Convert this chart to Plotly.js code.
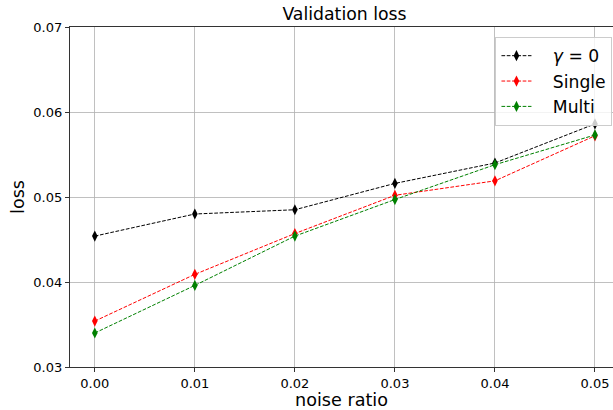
<!DOCTYPE html>
<html>
<head>
<meta charset="utf-8">
<script src="https://cdn.plot.ly/plotly-3.0.1.min.js"></script>
<style>html,body{margin:0;padding:0;background:#fff;}#chart{width:613px;height:410px;}</style>
</head>
<body>
<div id="chart"></div>
<script>
const noiseRatio = [0.00, 0.01, 0.02, 0.03, 0.04, 0.05];
const gammaZero = [0.0454, 0.0480, 0.0485, 0.0516, 0.0540, 0.0586];
const single = [0.0354, 0.0409, 0.0457, 0.0502, 0.0519, 0.0572];
const multi = [0.0340, 0.0396, 0.0454, 0.0497, 0.0538, 0.0573];
const seriesNames = ['<i>γ</i> = 0', 'Single', 'Multi'];
const xTicks = [0.00, 0.01, 0.02, 0.03, 0.04, 0.05];
const yTicks = [0.03, 0.04, 0.05, 0.06, 0.07];

const font = 'DejaVu Sans, sans-serif';
const pad = '\u00A0\u00A0\u00A0';
function mk(y, name, color, g) {
  return {
    x: noiseRatio, y: y, name: pad + name, type: 'scatter', mode: 'lines+markers',
    legendgroup: g,
    line: {color: color, width: 1, dash: '3.7px,1.6px'},
    marker: {symbol: 'diamond-tall', size: 8, color: color}
  };
}
const data = [
  mk(gammaZero, seriesNames[0], '#000000', 'a'),
  mk(single, seriesNames[1], '#ff0000', 'b'),
  mk(multi, seriesNames[2], '#008000', 'c')
];
const layout = {
  width: 613, height: 410,
  margin: {l: 70, r: 0, t: 27, b: 43},
  paper_bgcolor: '#fff', plot_bgcolor: '#fff',
  font: {family: font, color: '#000', size: 13},
  showlegend: true,
  title: {text: 'Validation loss', font: {size: 17.3, family: font, color: '#000'},
          xref: 'paper', x: 0.5055, xanchor: 'center', yref: 'container', y: 1 - 14/410, yanchor: 'middle'},
  xaxis: {
    range: [-0.00248, 0.0518], tickvals: xTicks, tickformat: '.2f',
    showgrid: true, gridcolor: '#b0b0b0', gridwidth: 0.8, zeroline: false,
    showline: true, linecolor: '#000', linewidth: 0.8, mirror: true,
    ticks: 'outside', ticklen: 4.4, tickwidth: 0.8, tickcolor: '#000',
    tickfont: {size: 13, family: font},
    title: {text: 'noise ratio', font: {size: 17.6, family: font}, standoff: 5}
  },
  yaxis: {
    range: [0.03, 0.07], tickvals: yTicks, tickformat: '.2f',
    showgrid: true, gridcolor: '#b0b0b0', gridwidth: 0.8, zeroline: false,
    showline: true, linecolor: '#000', linewidth: 0.8, mirror: false,
    ticks: 'outside', ticklen: 4.4, tickwidth: 0.8, tickcolor: '#000',
    tickfont: {size: 13, family: font},
    title: {text: 'loss', font: {size: 17.6, family: font}, standoff: 3}
  },
  legend: {
    x: 0.999, xanchor: 'right', y: 1 - 10/340, yanchor: 'top',
    bgcolor: 'rgba(255,255,255,0.8)', bordercolor: '#cccccc', borderwidth: 1,
    font: {size: 17.2, family: font, color: '#000'},
    traceorder: 'grouped', tracegroupgap: 0, itemwidth: 30
  }
};
Plotly.newPlot('chart', data, layout, {displayModeBar: false, staticPlot: true});
</script>
</body>
</html>
